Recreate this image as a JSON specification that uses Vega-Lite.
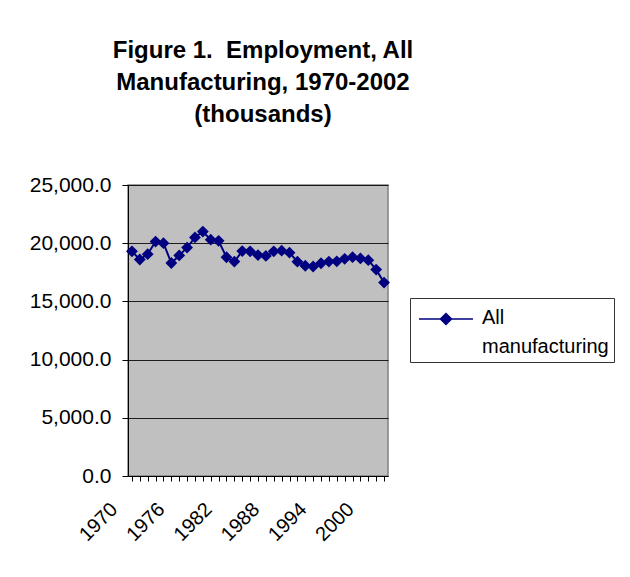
{
  "$schema": "https://vega.github.io/schema/vega-lite/v6.json",
  "autosize": "none",
  "width": 260,
  "height": 291,
  "padding": {"left": 128, "top": 185, "right": 242, "bottom": 101},
  "background": "white",
  "title": {
    "text": ["Figure 1.\u00a0 Employment, All", "Manufacturing, 1970-2002", "(thousands)"],
    "font": "Liberation Sans",
    "fontSize": 24,
    "fontWeight": "bold",
    "lineHeight": 32,
    "color": "black",
    "frame": "group",
    "anchor": "middle",
    "baseline": "alphabetic",
    "offset": 28,
    "dx": 5
  },
  "data": {
    "values": [
      {"year": 1970, "value": 19300, "series": "All manufacturing"},
      {"year": 1971, "value": 18600, "series": "All manufacturing"},
      {"year": 1972, "value": 19060, "series": "All manufacturing"},
      {"year": 1973, "value": 20140, "series": "All manufacturing"},
      {"year": 1974, "value": 20000, "series": "All manufacturing"},
      {"year": 1975, "value": 18300, "series": "All manufacturing"},
      {"year": 1976, "value": 18950, "series": "All manufacturing"},
      {"year": 1977, "value": 19620, "series": "All manufacturing"},
      {"year": 1978, "value": 20500, "series": "All manufacturing"},
      {"year": 1979, "value": 21000, "series": "All manufacturing"},
      {"year": 1980, "value": 20300, "series": "All manufacturing"},
      {"year": 1981, "value": 20200, "series": "All manufacturing"},
      {"year": 1982, "value": 18790, "series": "All manufacturing"},
      {"year": 1983, "value": 18420, "series": "All manufacturing"},
      {"year": 1984, "value": 19320, "series": "All manufacturing"},
      {"year": 1985, "value": 19300, "series": "All manufacturing"},
      {"year": 1986, "value": 18980, "series": "All manufacturing"},
      {"year": 1987, "value": 18910, "series": "All manufacturing"},
      {"year": 1988, "value": 19300, "series": "All manufacturing"},
      {"year": 1989, "value": 19360, "series": "All manufacturing"},
      {"year": 1990, "value": 19190, "series": "All manufacturing"},
      {"year": 1991, "value": 18410, "series": "All manufacturing"},
      {"year": 1992, "value": 18060, "series": "All manufacturing"},
      {"year": 1993, "value": 18000, "series": "All manufacturing"},
      {"year": 1994, "value": 18280, "series": "All manufacturing"},
      {"year": 1995, "value": 18420, "series": "All manufacturing"},
      {"year": 1996, "value": 18440, "series": "All manufacturing"},
      {"year": 1997, "value": 18660, "series": "All manufacturing"},
      {"year": 1998, "value": 18800, "series": "All manufacturing"},
      {"year": 1999, "value": 18690, "series": "All manufacturing"},
      {"year": 2000, "value": 18540, "series": "All manufacturing"},
      {"year": 2001, "value": 17730, "series": "All manufacturing"},
      {"year": 2002, "value": 16620, "series": "All manufacturing"}
    ]
  },
  "encoding": {
    "x": {
      "field": "year",
      "type": "ordinal",
      "scale": {"type": "point", "padding": 0.5},
      "axis": {
        "title": null,
        "labelExpr": "datum.value % 6 == 2 ? datum.label : ''",
        "labelAngle": -45,
        "labelAlign": "right",
        "labelBaseline": "middle",
        "labelFont": "Liberation Sans",
        "labelFontSize": 20,
        "labelColor": "black",
        "labelPadding": 25,
        "labelOffset": -18,
        "labelOverlap": false,
        "tickSize": 5,
        "tickColor": "black",
        "domainColor": "black",
        "grid": false
      }
    },
    "y": {
      "field": "value",
      "type": "quantitative",
      "scale": {"domain": [0, 25000], "nice": false, "zero": true},
      "axis": {
        "title": null,
        "values": [0, 5000, 10000, 15000, 20000, 25000],
        "format": ",.1f",
        "labelFont": "Liberation Sans",
        "labelFontSize": 21,
        "labelColor": "black",
        "labelPadding": 11,
        "tickSize": 6,
        "tickColor": "black",
        "domainColor": "black",
        "grid": true,
        "gridColor": "black",
        "gridOpacity": 0.85
      }
    },
    "color": {
      "field": "series",
      "type": "nominal",
      "scale": {"range": ["#000080"]},
      "legend": {
        "title": null,
        "orient": "none",
        "legendX": 282,
        "legendY": 113,
        "direction": "vertical",
        "padding": 5,
        "strokeColor": "#333333",
        "fillColor": "white",
        "symbolType": "M-0.78,0.11H3.22M1.22,-0.3L1.63,0.11L1.22,0.52L0.81,0.11Z",
        "symbolSize": 729,
        "symbolStrokeWidth": 1.5,
        "symbolFillColor": "#000080",
        "symbolStrokeColor": "#000080",
        "symbolOpacity": 1,
        "labelExpr": "split(datum.label, ' ')",
        "labelFont": "Liberation Sans",
        "labelFontSize": 20,
        "labelColor": "black",
        "labelBaseline": "middle",
        "labelOffset": 38,
        "labelLimit": 0
      }
    }
  },
  "layer": [
    {"mark": {"type": "line", "strokeWidth": 2}},
    {"mark": {"type": "point", "shape": "diamond", "filled": true, "size": 140, "opacity": 1}}
  ],
  "config": {
    "view": {"fill": "#C0C0C0", "stroke": "#808080", "strokeWidth": 1.5},
    "style": {"guide-label": {"lineHeight": 29}}
  }
}
